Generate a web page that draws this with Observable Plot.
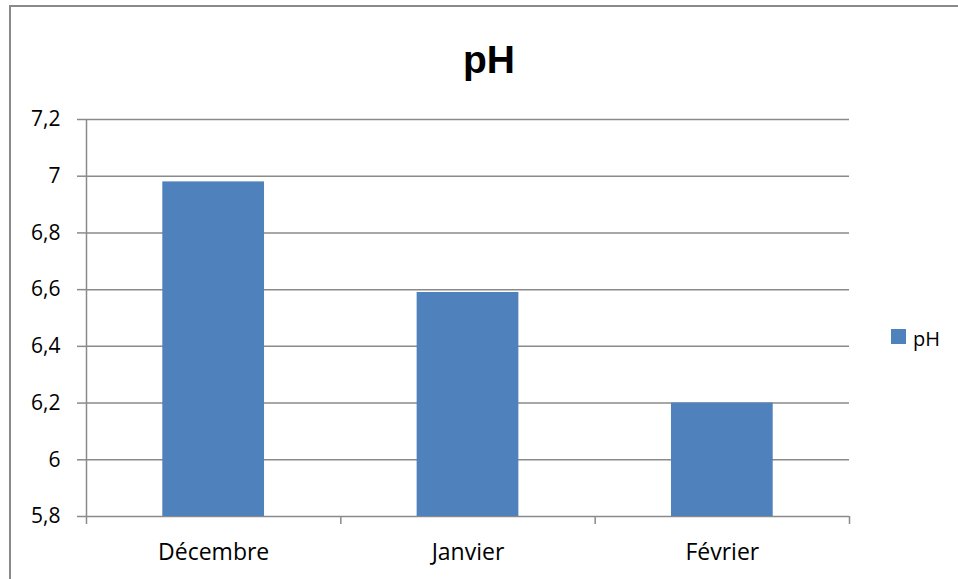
<!DOCTYPE html>
<html>
<head>
<meta charset="utf-8">
<script src="https://cdn.jsdelivr.net/npm/d3@7"></script>
<script src="https://cdn.jsdelivr.net/npm/@observablehq/plot@0.6"></script>
<style>
  html, body { margin: 0; padding: 0; background: #fff; overflow: hidden; }
  #wrap { position: relative; width: 958px; height: 579px; overflow: hidden; }
  #border { position: absolute; left: 9px; top: 5px; width: 2000px; height: 2000px; border: 2px solid #8a8a8a; box-sizing: border-box; }
  #title { position: absolute; left: 0; top: 40px; width: 978px; text-align: center; font-family: "Liberation Sans", Arial, sans-serif; font-weight: bold; font-size: 39px; line-height: 39px; color: #000; }
  #legend { position: absolute; left: 891px; top: 329px; height: 20px; font-family: "Open Sans", sans-serif; font-size: 20px; line-height: 20px; color: #000; white-space: nowrap; }
  #legend .sw { display: inline-block; width: 15px; height: 15px; background: #4f81bd; vertical-align: top; margin-right: 7px; }
  #legend .lab { position: absolute; left: 22px; top: 0; }
  #chart { position: absolute; left: 0; top: 0; }
</style>
</head>
<body>
<div id="wrap">
  <div id="border"></div>
  <div id="chart"></div>
  <div id="title">pH</div>
  <div id="legend"><span class="sw"></span><span class="lab">pH</span></div>
</div>
<script>
const categories = ["Décembre", "Janvier", "Février"];
const values = [6.98, 6.59, 6.2];
const yTicks = [5.8, 6, 6.2, 6.4, 6.6, 6.8, 7, 7.2];
const seriesName = "pH";

const data = categories.map((c, i) => ({category: c, index: i, value: values[i]}));
const boundaries = d3.range(categories.length + 1);
const labelPositions = data.map(d => d.index + 0.5);
const fmt = v => String(+v.toFixed(1)).replace(".", ",");
const gray = "#8a8a8a";

const chart = Plot.plot({
  width: 958,
  height: 579,
  marginLeft: 86,
  marginRight: 109,
  marginTop: 119,
  marginBottom: 63,
  style: {background: "transparent", fontFamily: "'Open Sans', sans-serif", color: "#000"},
  x: {type: "linear", domain: [0, categories.length], axis: null},
  y: {domain: [5.8, 7.2], axis: null},
  marks: [
    Plot.ruleY(yTicks, {stroke: gray, strokeWidth: 1.5}),
    Plot.rectY(data, {
      x1: d => d.index + 0.3,
      x2: d => d.index + 0.7,
      y1: () => 5.8,
      y2: d => d.value,
      fill: "#4f81bd"
    }),
    Plot.ruleX([0], {stroke: gray, strokeWidth: 1.5}),
    Plot.axisY(yTicks, {
      anchor: "left",
      tickSize: 9,
      tickPadding: 17,
      tickFormat: fmt,
      stroke: gray,
      strokeWidth: 1.5,
      fill: "#000",
      fontSize: 21
    }),
    Plot.axisX(boundaries, {
      anchor: "bottom",
      tickSize: 8,
      tickFormat: () => "",
      stroke: gray,
      strokeWidth: 1.5
    }),
    Plot.axisX(labelPositions, {
      anchor: "bottom",
      tickSize: 0,
      tickPadding: 27,
      tickFormat: v => categories[Math.floor(v)],
      fill: "#000",
      fontSize: 23
    })
  ]
});
document.getElementById("chart").appendChild(chart);
</script>
</body>
</html>
